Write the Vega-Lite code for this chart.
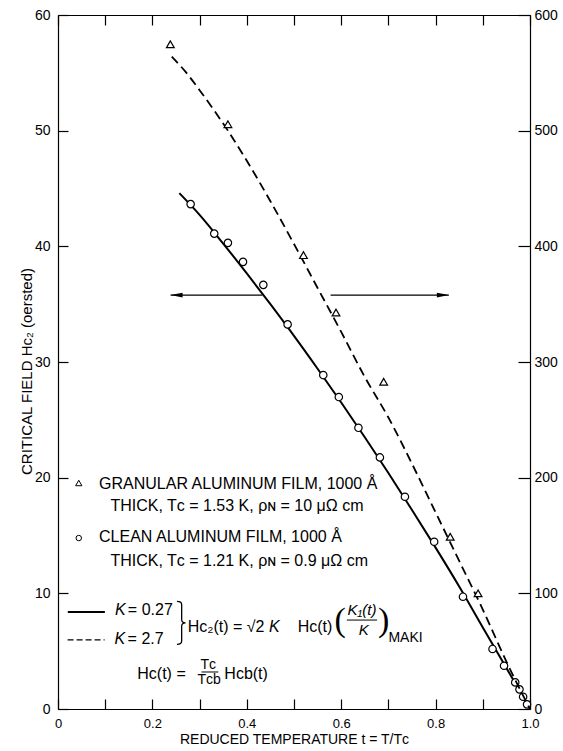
{
  "$schema": "https://vega.github.io/schema/vega-lite/v6.json",
  "width": 472,
  "height": 694,
  "autosize": "none",
  "padding": {"left": 58, "top": 15, "right": 33, "bottom": 42},
  "background": "white",
  "config": {
    "view": {"stroke": null},
    "font": "Liberation Sans",
    "axis": {
      "domainColor": "black", "domainWidth": 1.2, "tickColor": "black", "tickWidth": 1.2,
      "labelColor": "black", "labelFont": "Liberation Sans", "labelFontSize": 14,
      "titleColor": "black", "titleFont": "Liberation Sans", "titleFontSize": 14, "titleFontWeight": "normal",
      "grid": false, "labelOverlap": false, "labelFlush": false
    },
    "text": {"font": "Liberation Sans", "color": "black"}
  },
  "datasets": {
    "clean": [
      {"t": 0.281, "H": 43.65}, {"t": 0.331, "H": 41.1}, {"t": 0.360, "H": 40.3}, {"t": 0.392, "H": 38.66},
      {"t": 0.435, "H": 36.67}, {"t": 0.4865, "H": 33.25}, {"t": 0.562, "H": 28.87}, {"t": 0.595, "H": 26.97},
      {"t": 0.6365, "H": 24.31}, {"t": 0.682, "H": 21.75}, {"t": 0.735, "H": 18.35}, {"t": 0.797, "H": 14.46},
      {"t": 0.858, "H": 9.71}, {"t": 0.9206, "H": 5.19}, {"t": 0.945, "H": 3.74}, {"t": 0.9687, "H": 2.3},
      {"t": 0.9777, "H": 1.7}, {"t": 0.9854, "H": 1.06}, {"t": 0.9937, "H": 0.4}
    ],
    "granular": [
      {"t": 0.238, "H": 574.7}, {"t": 0.360, "H": 505.6}, {"t": 0.520, "H": 392.4}, {"t": 0.589, "H": 342.8},
      {"t": 0.690, "H": 282.9}, {"t": 0.831, "H": 148.9}, {"t": 0.890, "H": 100}
    ],
    "solid": [
      {"t": 0.257, "H": 44.6}, {"t": 0.30, "H": 42.72}, {"t": 0.35, "H": 40.24}, {"t": 0.40, "H": 37.66},
      {"t": 0.45, "H": 35.0}, {"t": 0.50, "H": 32.26}, {"t": 0.55, "H": 29.42}, {"t": 0.60, "H": 26.5},
      {"t": 0.65, "H": 23.49}, {"t": 0.70, "H": 20.4}, {"t": 0.75, "H": 17.21}, {"t": 0.80, "H": 13.95},
      {"t": 0.85, "H": 10.59}, {"t": 0.90, "H": 7.05}, {"t": 0.95, "H": 3.55}, {"t": 1.0, "H": 0}
    ],
    "dashed": [
      {"t": 0.241, "H": 564}, {"t": 0.27, "H": 551}, {"t": 0.30, "H": 535}, {"t": 0.33, "H": 518},
      {"t": 0.36, "H": 500}, {"t": 0.40, "H": 474}, {"t": 0.45, "H": 439}, {"t": 0.50, "H": 402},
      {"t": 0.55, "H": 364}, {"t": 0.60, "H": 326}, {"t": 0.65, "H": 287}, {"t": 0.70, "H": 252},
      {"t": 0.75, "H": 212}, {"t": 0.80, "H": 170}, {"t": 0.85, "H": 128}, {"t": 0.90, "H": 86},
      {"t": 0.95, "H": 41}, {"t": 0.975, "H": 20}, {"t": 1.0, "H": 0}
    ]
  },
  "layer": [
    {
      "encoding": {
        "x": {
          "field": "t", "type": "quantitative", "scale": {"domain": [0, 1], "nice": false},
          "axis": {
            "orient": "bottom", "values": [0, 0.1, 0.2, 0.3, 0.4, 0.5, 0.6, 0.7, 0.8, 0.9, 1.0],
            "tickSize": -10, "labelPadding": 18, "labelFontSize": 13,
            "labelExpr": "abs(datum.value*5 - round(datum.value*5)) < 0.001 ? (datum.value == 0 ? '0' : format(datum.value, '.1f')) : ''",
            "title": "REDUCED TEMPERATURE  t = T/Tᴄ", "titleY": 30, "titleBaseline": "middle"
          }
        },
        "y": {
          "field": "H", "type": "quantitative", "scale": {"domain": [0, 60], "nice": false},
          "axis": {
            "orient": "left", "values": [0, 10, 20, 30, 40, 50, 60], "tickSize": -10, "labelPadding": 18,
            "title": "CRITICAL FIELD Hᴄ₂ (oersted)", "titleX": -32, "titleY": 356, "titleAngle": 270,
            "titleAlign": "center", "titleBaseline": "middle", "titleFontSize": 15
          }
        }
      },
      "layer": [
        {"data": {"name": "solid"}, "mark": {"type": "line", "color": "black", "strokeWidth": 2, "interpolate": "monotone"}},
        {"data": {"name": "clean"}, "mark": {"type": "point", "shape": "circle", "size": 55, "filled": true, "fill": "white", "stroke": "black", "strokeWidth": 1.2, "opacity": 1}},
        {
          "data": {"values": [{"t": 0.2385, "t2": 0.4328, "H": 35.79}, {"t": 0.5775, "t2": 0.8281, "H": 35.79}]},
          "mark": {"type": "rule", "color": "black", "strokeWidth": 1.2},
          "encoding": {"x2": {"field": "t2"}}
        },
        {
          "data": {"values": [{"t": 0.2385, "H": 35.79, "dir": "left"}, {"t": 0.8281, "H": 35.79, "dir": "right"}]},
          "mark": {"type": "point", "filled": true, "color": "black", "size": 144, "opacity": 1},
          "encoding": {"shape": {"field": "dir", "type": "nominal", "scale": {"domain": ["left", "right"], "range": ["M 0 0 L 2 -0.4 L 2 0.4 Z", "M 0 0 L -2 -0.4 L -2 0.4 Z"]}, "legend": null}}
        },
        {"data": {"values": [{"t": 0.044, "H": 19.54}]}, "mark": {"type": "point", "shape": "triangle-up", "size": 40, "filled": true, "fill": "white", "stroke": "black", "strokeWidth": 1, "opacity": 1}},
        {"data": {"values": [{"t": 0.044, "H": 14.78}]}, "mark": {"type": "point", "shape": "circle", "size": 30, "filled": true, "fill": "white", "stroke": "black", "strokeWidth": 1, "opacity": 1}},
        {
          "data": {"values": [{"t": 0.262, "H": 7.45}]},
          "mark": {"type": "point", "filled": false, "stroke": "black", "strokeWidth": 1.3, "opacity": 1, "size": 1850,
            "shape": "M -0.22 -1 Q 0 -1 0 -0.85 L 0 -0.15 Q 0 0 0.18 0 Q 0 0 0 0.15 L 0 0.85 Q 0 1 -0.22 1"}
        },
        {
          "data": {"values": [{"t": 0.0208, "t2": 0.0993, "H": 8.39}]},
          "mark": {"type": "rule", "color": "black", "strokeWidth": 2},
          "encoding": {"x2": {"field": "t2"}}
        },
        {
          "data": {"values": [{"t": 0.0203, "t2": 0.0987, "H": 5.97}]},
          "mark": {"type": "rule", "color": "black", "strokeWidth": 1.3, "strokeDash": [6, 3]},
          "encoding": {"x2": {"field": "t2"}}
        },
        {
          "data": {"values": [{"t": 0.612, "t2": 0.676, "H": 7.69}, {"t": 0.304, "t2": 0.3397, "H": 3.2}]},
          "mark": {"type": "rule", "color": "black", "strokeWidth": 1},
          "encoding": {"x2": {"field": "t2"}}
        },
        {
          "data": {"values": [
            {"t": 0.087, "H": 19.45, "label": "GRANULAR ALUMINUM FILM, 1000 Å"},
            {"t": 0.111, "H": 17.55, "label": "THICK, Tᴄ = 1.53 K, ρɴ = 10 μΩ cm"},
            {"t": 0.087, "H": 14.87, "label": "CLEAN ALUMINUM FILM, 1000 Å"},
            {"t": 0.111, "H": 12.8, "label": "THICK, Tᴄ = 1.21 K, ρɴ = 0.9 μΩ cm"},
            {"t": 0.148, "H": 8.56, "label": "= 0.27"},
            {"t": 0.1475, "H": 6.05, "label": "= 2.7"},
            {"t": 0.2748, "H": 7.09, "label": "Hᴄ₂(t) = √2"},
            {"t": 0.5079, "H": 7.09, "label": "Hᴄ(t)"},
            {"t": 0.168, "H": 3.03, "label": "Hᴄ(t) ="},
            {"t": 0.3524, "H": 3.03, "label": "Hᴄb(t)"}
          ]},
          "mark": {"type": "text", "align": "left", "baseline": "middle", "fontSize": 16},
          "encoding": {"text": {"field": "label"}}
        },
        {
          "data": {"values": [
            {"t": 0.1205, "H": 8.56, "label": "K"},
            {"t": 0.1199, "H": 6.05, "label": "K"},
            {"t": 0.447, "H": 7.09, "label": "K"}
          ]},
          "mark": {"type": "text", "align": "left", "baseline": "middle", "fontSize": 16, "fontStyle": "italic"},
          "encoding": {"text": {"field": "label"}}
        },
        {
          "data": {"values": [
            {"t": 0.644, "H": 8.56, "label": "K₁(t)"},
            {"t": 0.648, "H": 6.83, "label": "K"}
          ]},
          "mark": {"type": "text", "align": "center", "baseline": "middle", "fontSize": 15, "fontStyle": "italic"},
          "encoding": {"text": {"field": "label"}}
        },
        {
          "data": {"values": [
            {"t": 0.3183, "H": 3.8, "label": "Tᴄ"},
            {"t": 0.3204, "H": 2.51, "label": "Tᴄb"}
          ]},
          "mark": {"type": "text", "align": "center", "baseline": "middle", "fontSize": 14},
          "encoding": {"text": {"field": "label"}}
        },
        {
          "data": {"values": [{"t": 0.7, "H": 6.14, "label": "MAKI"}]},
          "mark": {"type": "text", "align": "left", "baseline": "middle", "fontSize": 14},
          "encoding": {"text": {"field": "label"}}
        },
        {
          "data": {"values": [
            {"t": 0.598, "H": 7.6, "label": "("},
            {"t": 0.69, "H": 7.6, "label": ")"}
          ]},
          "mark": {"type": "text", "align": "center", "baseline": "middle", "fontSize": 34, "font": "Liberation Serif"},
          "encoding": {"text": {"field": "label"}}
        }
      ]
    },
    {
      "encoding": {
        "x": {
          "field": "t", "type": "quantitative", "scale": {"domain": [0, 1], "nice": false},
          "axis": {"orient": "top", "values": [0, 0.1, 0.2, 0.3, 0.4, 0.5, 0.6, 0.7, 0.8, 0.9, 1.0], "tickSize": -10, "labels": false, "title": null}
        },
        "y": {
          "field": "H", "type": "quantitative", "scale": {"domain": [0, 600], "nice": false},
          "axis": {"orient": "right", "values": [0, 100, 200, 300, 400, 500, 600], "tickSize": -12, "labelPadding": 16, "title": null}
        }
      },
      "layer": [
        {"data": {"name": "dashed"}, "mark": {"type": "line", "color": "black", "strokeWidth": 1.8, "strokeDash": [9, 5], "interpolate": "monotone"}},
        {"data": {"name": "granular"}, "mark": {"type": "point", "shape": "triangle-up", "size": 60, "filled": true, "fill": "white", "stroke": "black", "strokeWidth": 1.2, "opacity": 1}}
      ]
    }
  ],
  "resolve": {"scale": {"y": "independent"}, "axis": {"x": "independent", "y": "independent"}}
}
